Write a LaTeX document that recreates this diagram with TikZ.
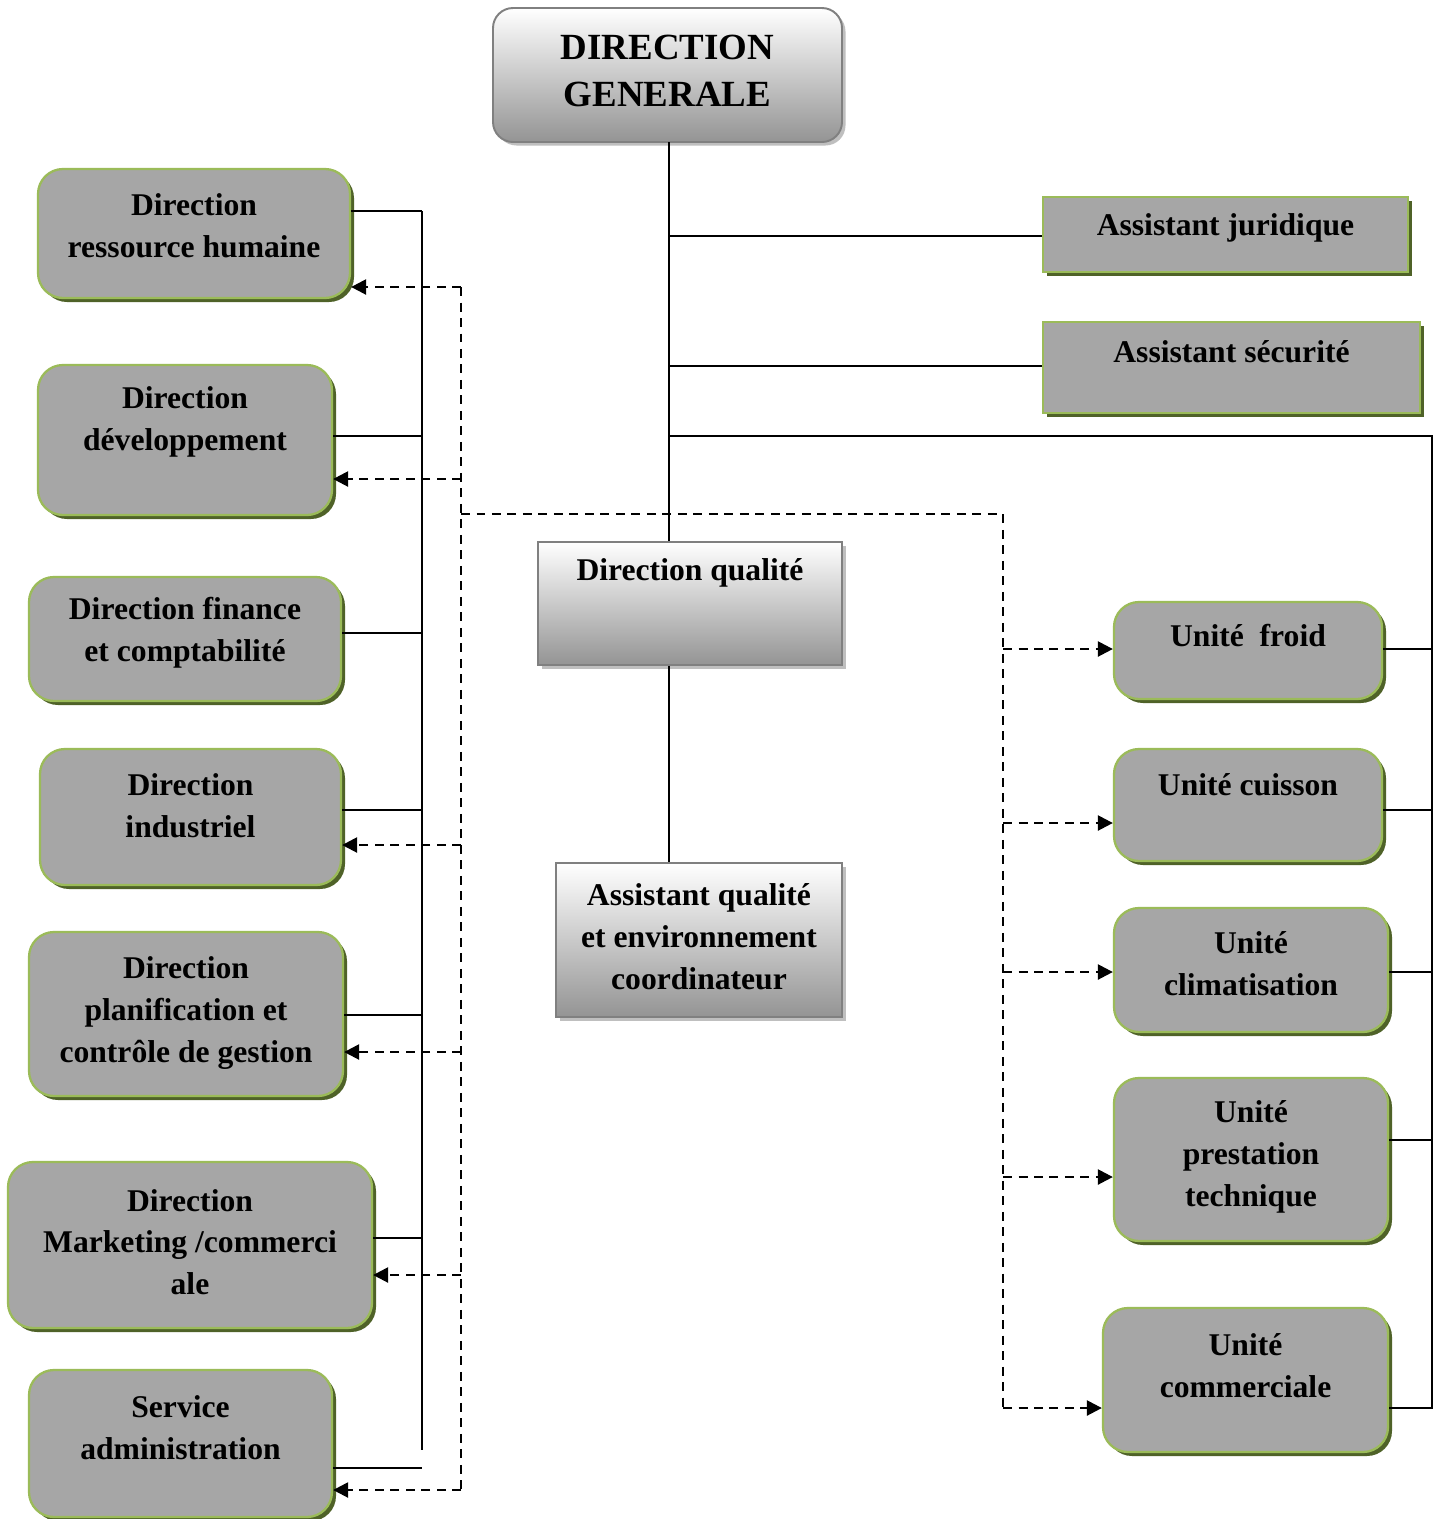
\documentclass[tikz,border=0pt]{standalone}
\usepackage{fontspec}
\setmainfont{Liberation Serif}
\usepackage{xcolor}
\usetikzlibrary{positioning,calc,fit,shadows,arrows.meta}

\definecolor{boxgray}{HTML}{A6A6A6}
\definecolor{boxgreen}{HTML}{9BBB59}
\definecolor{shadegreen}{HTML}{4F6228}

\tikzset{
    greenbox/.style={draw=boxgreen, line width=1.3pt, fill=boxgray, inner sep=0pt,
        drop shadow={shadow xshift=0.08cm, shadow yshift=-0.08cm, fill=shadegreen, opacity=1}},
    roundbox/.style={greenbox, rounded corners=0.5cm},
    shadebox/.style={draw=black!50, line width=1.1pt, top color=white, bottom color=black!42, inner sep=0pt,
        drop shadow={shadow xshift=0.07cm, shadow yshift=-0.07cm, fill=black!25, opacity=1}},
    txt/.style={font=\fontsize{18}{23.8}\selectfont\bfseries, align=center, inner sep=0pt},
    conn/.style={line width=1.3pt},
    dashconn/.style={line width=1.4pt, dash pattern=on 0.18cm off 0.13cm},
    darrow/.style={dashconn, -{Triangle[length=0.3cm, width=0.3cm]}}
}

\begin{document}
\begin{tikzpicture}[x=0.02cm, y=-0.02cm]
    \useasboundingbox (0,0) rectangle (1441,1519);

    % top and centre
    \node [shadebox, rounded corners=0.4cm, fit={(493,8) (842,142)}] (dg) {};
    \node [txt, font=\fontsize{21}{27}\selectfont\bfseries] at (dg |- 0,71) {DIRECTION\\GENERALE};
    \node [greenbox, fit={(1043,197) (1408,272)}] (juri) {};
    \node [txt] at (juri |- 0,228) {Assistant juridique};
    \node [greenbox, fit={(1043,322) (1420,413)}] (secu) {};
    \node [txt] at (secu |- 0,352) {Assistant sécurité};
    \node [shadebox, fit={(538,542) (842,665)}] (qual) {};
    \node [txt] at (qual |- 0,573) {Direction qualité};
    \node [shadebox, fit={(556,863) (842,1017)}] (aqe) {};
    \node [txt] at (aqe |- 0,937) {Assistant qualité\\et environnement\\coordinateur};

    % left column
    \node [roundbox, fit={(38,169) (350,298)}] (drh) {};
    \node [txt] at (drh |- 0,226) {Direction\\ressource humaine};
    \node [roundbox, fit={(38,365) (332,515)}] (dev) {};
    \node [txt] at (dev |- 0,422) {Direction\\développement};
    \node [roundbox, fit={(29,577) (341,701)}] (fin) {};
    \node [txt] at (fin |- 0,633) {Direction finance\\et comptabilité};
    \node [roundbox, fit={(40,749) (341,885)}] (ind) {};
    \node [txt] at (ind |- 0,806) {Direction\\industriel};
    \node [roundbox, fit={(29,932) (343,1096)}] (plan) {};
    \node [txt] at (plan |- 0,1013) {Direction\\planification et\\contrôle de gestion};
    \node [roundbox, fit={(8,1162) (372,1328)}] (mkt) {};
    \node [txt] at (mkt |- 0,1242) {Direction\\Marketing /commerci\\ale};
    \node [roundbox, fit={(29,1370) (332,1517)}] (adm) {};
    \node [txt] at (adm |- 0,1428) {Service\\administration};

    % right column
    \node [roundbox, fit={(1114,602) (1382,699)}] (froid) {};
    \node [txt] at (froid |- 0,636) {Unité\ \ froid};
    \node [roundbox, fit={(1114,749) (1382,861)}] (cuis) {};
    \node [txt] at (cuis |- 0,785) {Unité cuisson};
    \node [roundbox, fit={(1114,908) (1388,1032)}] (clim) {};
    \node [txt] at (clim |- 0,964) {Unité\\climatisation};
    \node [roundbox, fit={(1114,1078) (1388,1241)}] (prest) {};
    \node [txt] at (prest |- 0,1157) {Unité\\prestation\\technique};
    \node [roundbox, fit={(1103,1308) (1388,1452)}] (com) {};
    \node [txt] at (com |- 0,1366) {Unité\\commerciale};

    % solid links
    \coordinate (trunk) at (669,142);
    \draw [conn] (trunk) -- (trunk |- qual.north);
    \draw [conn] (trunk |- qual.south) -- (trunk |- aqe.north);
    \draw [conn] (trunk |- 0,236) -- (juri.west |- 0,236);
    \draw [conn] (trunk |- 0,366) -- (secu.west |- 0,366);
    \draw [conn] (trunk |- 0,436) -- (1432,436) -- (1432,1408) -- (com.east |- 0,1408);
    \foreach \n/\y in {froid/649, cuis/810, clim/972, prest/1140}
        \draw [conn] (\n.east |- 0,\y) -- (1432,\y);
    \draw [conn] (422,211) -- (422,1450);
    \foreach \n/\y in {drh/211, dev/436, fin/633, ind/810, plan/1015, mkt/1238, adm/1468}
        \draw [conn] (\n.east |- 0,\y) -- (422,\y);

    % dashed links
    \draw [dashconn] (461,287) -- (461,1490);
    \draw [dashconn] (461,514) -- (1003,514) -- (1003,1408);
    \foreach \n/\y in {drh/287, dev/479, ind/845, plan/1052, mkt/1275, adm/1490}
        \draw [darrow] (461,\y) -- (\n.east |- 0,\y);
    \foreach \n/\y in {froid/649, cuis/823, clim/972, prest/1177, com/1408}
        \draw [darrow] (1003,\y) -- (\n.west |- 0,\y);
\end{tikzpicture}
\end{document}
